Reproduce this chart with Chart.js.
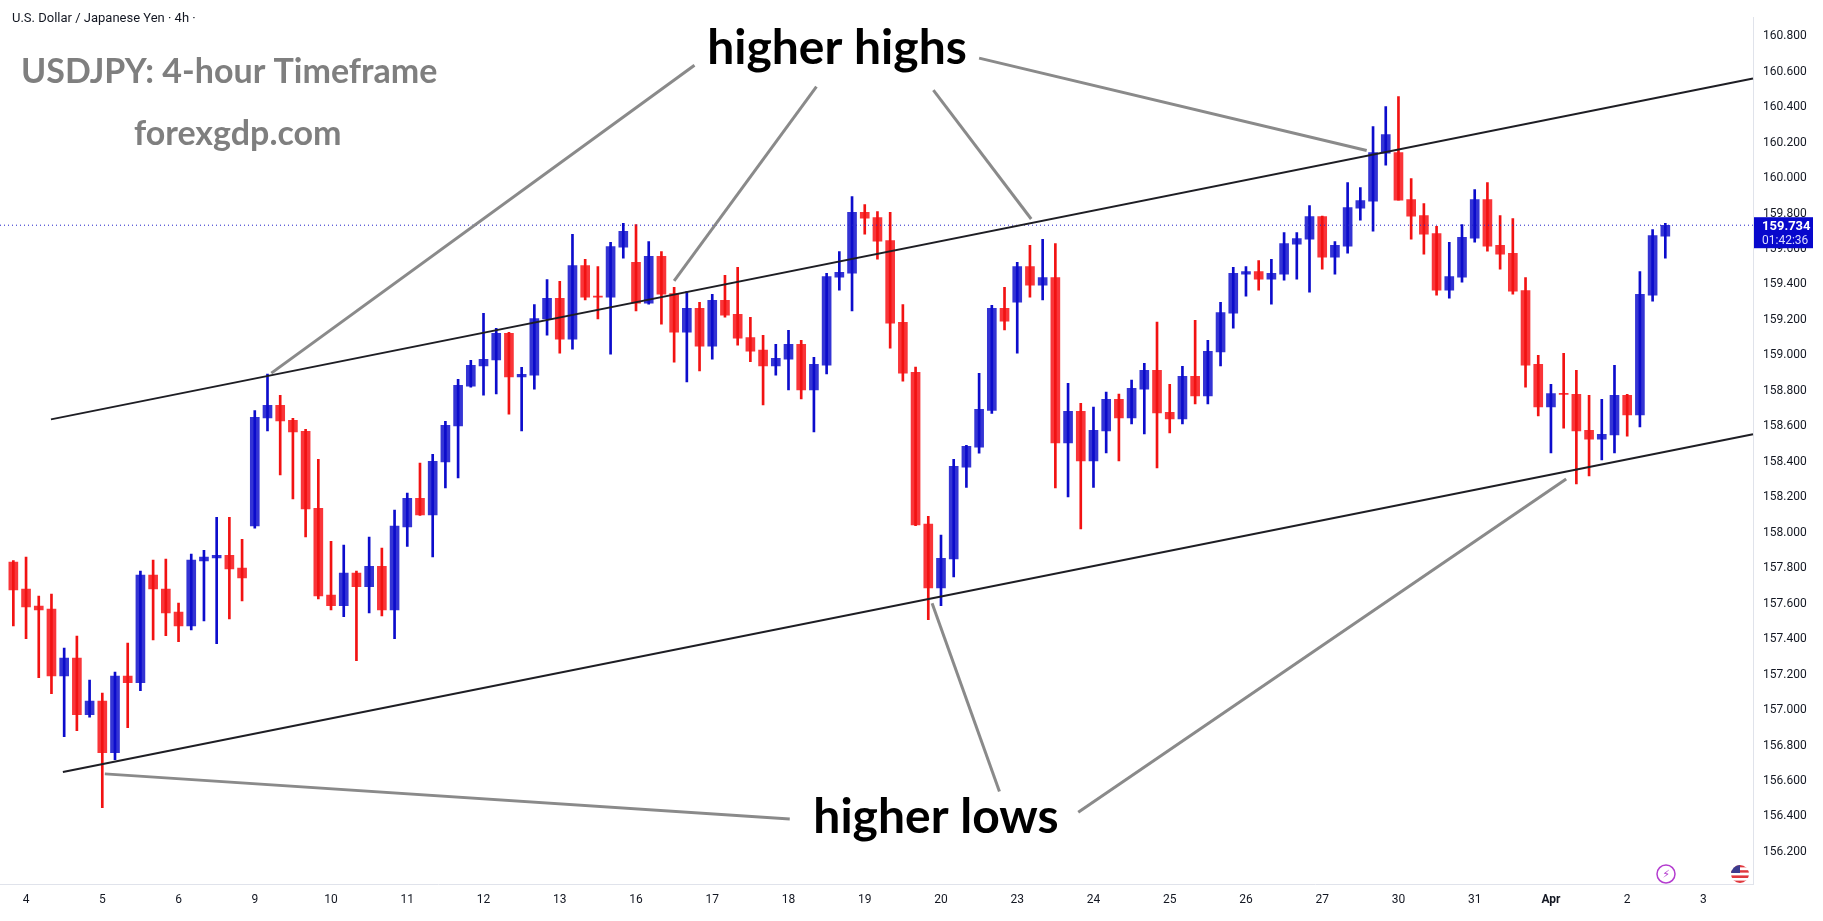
<!DOCTYPE html>
<html>
<head>
<meta charset="utf-8">
<script src="https://cdn.jsdelivr.net/npm/chart.js@4.4.1/dist/chart.umd.min.js"></script>
<style>
  html, body { margin: 0; padding: 0; background: #fff; }
  #wrap { position: relative; width: 1823px; height: 921px; }
</style>
</head>
<body>
<div id="wrap"><canvas id="chart"></canvas></div>
<script>
// USDJPY 4h candles
const opens = [157.834,157.682,157.586,157.569,157.193,157.293,156.974,157.051,156.759,157.192,
  157.154,157.761,157.682,157.552,157.475,157.841,157.858,157.873,157.800,158.038,
  158.647,158.718,158.634,158.572,158.138,157.648,157.588,157.772,157.695,157.811,
  157.565,158.033,158.194,158.100,158.399,158.602,158.827,158.940,158.974,159.124,
  158.878,158.889,159.205,159.321,159.092,159.507,159.334,159.328,159.610,159.524,
  159.295,159.558,159.349,159.131,159.265,159.052,159.310,159.231,159.101,159.030,
  158.940,158.979,159.062,158.805,158.945,159.441,159.464,159.806,159.777,159.648,
  159.186,158.904,158.048,157.689,157.852,158.369,158.482,158.690,159.265,159.300,
  159.501,159.396,159.439,158.506,158.685,158.405,158.574,158.752,158.647,158.810,
  158.915,158.679,158.641,158.882,158.771,159.019,159.238,159.458,159.473,159.430,
  159.458,159.627,159.655,159.783,159.554,159.616,159.830,159.869,160.140,160.144,
  159.879,159.789,159.687,159.368,159.441,159.661,159.879,159.620,159.575,159.366,
  158.949,158.709,158.784,158.780,158.577,158.528,158.551,158.775,158.664,159.340,
  159.672];
const highs = [157.843,157.862,157.642,157.654,157.349,157.417,157.169,157.096,157.214,157.377,
  157.783,157.845,157.851,157.603,157.879,157.901,158.087,158.087,157.963,158.688,
  158.895,158.775,158.645,158.583,158.414,157.952,157.930,157.783,157.975,157.913,
  158.127,158.223,158.392,158.442,158.628,158.865,158.972,159.237,159.152,159.130,
  158.932,159.287,159.428,159.417,159.682,159.541,159.501,159.637,159.744,159.738,
  159.642,159.586,159.383,159.361,159.299,159.344,159.451,159.496,159.214,159.113,
  159.062,159.141,159.085,158.989,159.462,159.586,159.896,159.851,159.811,159.806,
  159.287,158.934,158.093,157.986,158.414,158.493,158.899,159.282,159.383,159.524,
  159.620,159.654,159.631,158.842,158.730,158.709,158.793,158.782,158.861,158.955,
  159.188,158.837,158.938,159.197,159.085,159.299,159.496,159.501,159.535,159.541,
  159.693,159.693,159.845,159.785,159.642,159.975,159.946,160.290,160.403,160.459,
  159.997,159.856,159.727,159.637,159.738,159.935,159.975,159.789,159.772,159.439,
  159.000,158.837,159.011,158.915,158.775,158.752,158.944,158.780,159.473,159.710,
  159.744];
const lows = [157.475,157.402,157.182,157.092,156.850,156.883,156.960,156.450,156.720,156.900,
  157.109,157.396,157.419,157.385,157.452,157.503,157.374,157.514,157.616,158.025,
  158.574,158.326,158.190,157.976,157.627,157.565,157.526,157.278,157.548,157.531,
  157.402,157.922,158.098,157.864,158.252,158.309,158.820,158.776,158.782,158.669,
  158.574,158.810,159.114,159.013,159.035,159.312,159.205,159.007,159.548,159.250,
  159.289,159.176,158.962,158.850,158.912,158.979,159.216,159.058,158.965,158.720,
  158.889,158.805,158.754,158.568,158.895,159.368,159.250,159.683,159.543,159.041,
  158.855,158.040,157.509,157.588,157.751,158.256,158.448,158.673,159.143,159.013,
  159.328,159.312,158.252,158.202,158.021,158.256,158.450,158.405,158.613,158.557,
  158.365,158.562,158.613,158.726,158.726,158.940,159.154,159.334,159.368,159.289,
  159.424,159.430,159.357,159.486,159.458,159.576,159.762,159.700,160.072,159.875,
  159.655,159.571,159.340,159.323,159.413,159.638,159.588,159.486,159.345,158.821,
  158.658,158.450,158.590,158.275,158.320,158.410,158.450,158.545,158.596,159.306,
  159.548];
const closes = [157.678,157.582,157.565,157.193,157.293,156.974,157.051,156.759,157.192,157.154,
  157.761,157.683,157.548,157.475,157.845,157.862,157.873,157.796,157.745,158.651,
  158.718,158.630,158.568,158.134,157.644,157.588,157.772,157.695,157.811,157.565,
  158.037,158.194,158.100,158.403,158.606,158.831,158.944,158.977,159.124,158.878,
  158.893,159.208,159.321,159.092,159.507,159.328,159.328,159.614,159.699,159.295,
  159.558,159.345,159.131,159.265,159.052,159.310,159.227,159.097,159.024,158.940,
  158.983,159.062,158.805,158.949,159.445,159.468,159.806,159.774,159.644,159.182,
  158.900,158.044,157.689,157.856,158.375,158.487,158.696,159.265,159.193,159.501,
  159.396,159.439,158.506,158.685,158.405,158.577,158.752,158.647,158.814,158.915,
  158.675,158.641,158.882,158.771,159.023,159.242,159.462,159.473,159.430,159.462,
  159.631,159.659,159.783,159.554,159.620,159.834,159.873,160.144,160.245,159.875,
  159.785,159.683,159.368,159.445,159.665,159.879,159.616,159.571,159.362,158.945,
  158.709,158.784,158.780,158.574,158.528,158.555,158.775,158.664,159.344,159.676,
  159.734];

// time axis: candle index where each day starts
const dayLabels = ['4','5','6','9','10','11','12','13','16','17','18','19','20','23','24','25','26','27','30','31','Apr','2','3'];
const dayStarts = [1,7,13,19,25,31,37,43,49,55,61,67,73,79,85,91,97,103,109,115,121,127,133];
const priceTicks = [156.2,156.4,156.6,156.8,157.0,157.2,157.4,157.6,157.8,158.0,158.2,158.4,158.6,158.8,159.0,159.2,159.4,159.6,159.8,160.0,160.2,160.4,160.6,160.8];

// drawn lines as [index, price] pairs
const channelTop = [[2.96, 158.639], [136.9, 160.561]];
const channelBottom = [[3.9, 156.651], [136.9, 158.555]];
const highPointers = [
  [[20.3, 158.90], [53.6, 160.636]],
  [[52.0, 159.42], [63.2, 160.515]],
  [[80.1, 159.769], [72.4, 160.496]],
  [[106.5, 160.155], [76.0, 160.676]]
];
const lowPointers = [
  [[7.2, 156.640], [61.1, 156.385]],
  [[72.3, 157.602], [77.6, 156.541]],
  [[83.8, 156.423], [122.2, 158.303]]
];

const BLUE = '#3434d4', BLUE_WICK = '#0c0ccc';
const RED = '#f93539', RED_WICK = '#f21212';
const up = closes.map((c, i) => c >= opens[i]);

const overlay = {
  id: 'overlay',
  afterDatasetsDraw(chart) {
    const { ctx, scales: { x, y }, chartArea } = chart;
    const px = p => [x.getPixelForValue(p[0]), y.getPixelForValue(p[1])];
    ctx.save();

    // last price dotted line
    const ly = y.getPixelForValue(closes[closes.length - 1]);
    ctx.strokeStyle = '#2020c8';
    ctx.lineWidth = 1;
    ctx.setLineDash([1, 3]);
    ctx.beginPath(); ctx.moveTo(chartArea.left, ly); ctx.lineTo(chartArea.right, ly); ctx.stroke();
    ctx.setLineDash([]);

    // channel
    ctx.strokeStyle = '#1e1e24';
    ctx.lineWidth = 2;
    [channelTop, channelBottom].forEach(l => {
      const a = px(l[0]), b = px(l[1]);
      ctx.beginPath(); ctx.moveTo(a[0], a[1]); ctx.lineTo(b[0], b[1]); ctx.stroke();
    });

    // pointers
    ctx.strokeStyle = '#8a8a8a';
    ctx.lineWidth = 3;
    highPointers.concat(lowPointers).forEach(l => {
      const a = px(l[0]), b = px(l[1]);
      ctx.beginPath(); ctx.moveTo(a[0], a[1]); ctx.lineTo(b[0], b[1]); ctx.stroke();
    });

    // captions
    ctx.fillStyle = '#000';
    ctx.textAlign = 'center';
    ctx.textBaseline = 'alphabetic';
    ctx.font = 'bold 48px Lato';
    ctx.fillText('higher highs', 837, 64);
    ctx.fillText('higher lows', 936, 833);

    ctx.textAlign = 'left';
    ctx.fillStyle = '#7f7f7f';
    ctx.font = 'bold 34px Lato';
    ctx.fillText('USDJPY: 4-hour Timeframe', 21, 83);
    ctx.fillText('forexgdp.com', 134, 145);

    ctx.fillStyle = '#131722';
    ctx.font = '13px Roboto';
    ctx.fillText('U.S. Dollar / Japanese Yen · 4h ·', 12, 22);

    // price tag
    ctx.fillStyle = '#0808cc';
    ctx.fillRect(chartArea.right + 1, ly - 8, 59, 31);
    ctx.fillStyle = '#fff';
    ctx.font = 'bold 13px Roboto';
    ctx.fillText(closes[closes.length - 1].toFixed(3), chartArea.right + 9, ly + 5);
    ctx.fillStyle = '#dcdcff';
    ctx.font = '12px Roboto';
    ctx.fillText('01:42:36', chartArea.right + 9, ly + 19);

    // bottom icons
    ctx.strokeStyle = '#b43ccf';
    ctx.lineWidth = 1.5;
    ctx.beginPath(); ctx.arc(1666, 874, 9, 0, Math.PI * 2); ctx.stroke();
    ctx.fillStyle = '#b43ccf';
    ctx.font = '11px "DejaVu Sans"';
    ctx.textAlign = 'center';
    ctx.fillText('⚡', 1666, 878);
    ctx.beginPath(); ctx.arc(1740, 874, 9, 0, Math.PI * 2); ctx.clip();
    for (let k = 0; k < 7; k++) {
      ctx.fillStyle = k % 2 ? '#fff' : '#e0383e';
      ctx.fillRect(1731, 865 + k * 2.6, 18, 2.6);
    }
    ctx.fillStyle = '#3c3b8e';
    ctx.fillRect(1731, 865, 9, 8);
    ctx.restore();
  }
};

new Chart(document.getElementById('chart'), {
  type: 'bar',
  data: {
    datasets: [
      {
        data: closes.map((c, i) => ({ x: i, y: [lows[i], highs[i]] })),
        backgroundColor: up.map(u => u ? BLUE_WICK : RED_WICK),
        barThickness: 2,
        grouped: false
      },
      {
        data: closes.map((c, i) => ({ x: i, y: [opens[i], c] })),
        backgroundColor: up.map(u => u ? BLUE : RED),
        barThickness: 9,
        minBarLength: 1,
        grouped: false
      }
    ]
  },
  options: {
    responsive: true,
    maintainAspectRatio: false,
    animation: false,
    layout: { padding: 0 },
    plugins: { legend: { display: false }, tooltip: { enabled: false } },
    scales: {
      x: {
        type: 'linear',
        min: -1.05,
        max: 136.9,
        offset: false,
        grid: { display: false, drawTicks: false },
        border: { color: '#e0e3eb' },
        afterBuildTicks: s => { s.ticks = dayStarts.map(v => ({ value: v })); },
        afterFit: s => { s.height = 37; },
        ticks: {
          autoSkip: false,
          maxRotation: 0,
          padding: 9,
          color: '#131722',
          font: ctx => ({ family: 'Roboto', size: 12, weight: ctx.index === 20 ? 'bold' : 'normal' }),
          callback: (v, idx) => dayLabels[idx]
        }
      },
      y: {
        position: 'right',
        min: 156.019,
        max: 160.907,
        grid: { display: false, drawTicks: false },
        border: { color: '#e0e3eb' },
        afterBuildTicks: s => { s.ticks = priceTicks.map(v => ({ value: v })); },
        afterFit: s => { s.width = 70; },
        ticks: {
          padding: 10,
          color: '#131722',
          font: { family: 'Roboto', size: 12 },
          callback: v => Number(v).toFixed(3)
        }
      }
    }
  },
  plugins: [overlay]
});
</script>
</body>
</html>
